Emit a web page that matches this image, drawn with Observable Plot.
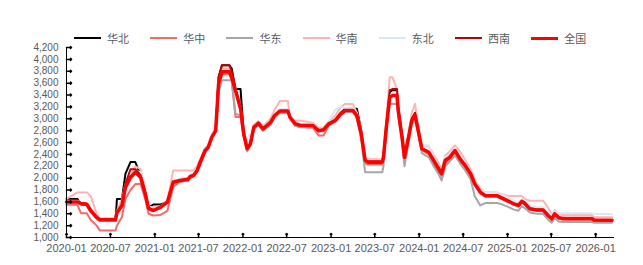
<!DOCTYPE html>
<html><head><meta charset="utf-8">
<script src="https://cdn.jsdelivr.net/npm/d3@7"></script>
<script src="https://cdn.jsdelivr.net/npm/@observablehq/plot@0.6"></script>
<style>
html,body{margin:0;padding:0;background:#fff;}
#wrap{position:relative;width:643px;height:265px;font-family:"Noto Sans CJK SC",sans-serif;}
#legend{position:absolute;top:31px;left:0;width:643px;height:14px;}
.item{position:absolute;top:0;display:flex;align-items:center;height:14px;font-size:11px;color:#595959;white-space:nowrap;}
.sw{width:27px;margin-right:6px;}
</style></head><body><div id="wrap"><div id="chart"></div><div id="legend"></div></div>
<script>
const dates = ["2020-01-01","2020-02-15","2020-03-01","2020-03-25","2020-04-10","2020-05-05","2020-05-18","2020-07-22","2020-07-28","2020-08-18",
"2020-09-01","2020-09-22","2020-10-12","2020-11-03","2020-11-22","2020-12-06","2020-12-25","2021-01-25","2021-02-22","2021-03-18",
"2021-04-15","2021-05-18","2021-05-28","2021-06-10","2021-06-25","2021-07-06","2021-07-28","2021-08-10","2021-08-25","2021-09-10",
"2021-09-22","2021-10-06","2021-11-06","2021-11-15","2021-12-01","2021-12-22","2022-01-04","2022-01-18","2022-02-01","2022-02-15",
"2022-03-06","2022-03-25","2022-04-25","2022-05-12","2022-06-03","2022-07-06","2022-07-15","2022-08-06","2022-08-25","2022-10-18",
"2022-11-10","2022-12-01","2022-12-22","2023-01-18","2023-02-10","2023-03-01","2023-04-01","2023-04-18","2023-05-06","2023-05-22",
"2023-06-03","2023-08-01","2023-08-06","2023-08-18","2023-09-01","2023-09-12","2023-10-01","2023-10-06","2023-10-22","2023-11-01",
"2023-11-18","2023-12-01","2023-12-15","2023-12-25","2024-01-12","2024-02-10","2024-03-01","2024-03-22","2024-04-03","2024-04-18",
"2024-05-06","2024-05-28","2024-06-18","2024-07-10","2024-08-01","2024-08-18","2024-09-10","2024-10-01","2024-11-18","2024-12-01",
"2025-01-01","2025-01-28","2025-02-15","2025-03-01","2025-03-12","2025-04-03","2025-05-01","2025-05-28","2025-06-18","2025-07-03",
"2025-07-15","2025-08-01","2025-08-18","2025-12-15","2025-12-25","2026-03-10"];

const huabei = [1650,1650,1560,1550,1450,1320,1280,1280,1650,1650,
2070,2270,2270,2050,1700,1500,1555,1555,1600,1950,
1970,1990,2040,2060,2140,2260,2470,2530,2700,2820,
3700,3900,3900,3850,3500,3500,2750,2500,2580,2860,
2930,2840,2940,3060,3140,3140,3030,2910,2880,2880,
2800,2810,2920,2980,3100,3170,3170,3170,2800,2280,
2250,2250,2350,2900,3450,3480,3480,3150,2700,2330,
2700,3000,3070,2870,2480,2420,2250,2100,2050,2280,
2350,2450,2330,2200,2060,1900,1760,1700,1700,1680,
1620,1560,1540,1600,1570,1480,1460,1460,1360,1300,
1390,1320,1310,1310,1280,1270];

const huazhong = [1550,1550,1410,1410,1300,1200,1120,1120,1200,1350,
1650,1800,1900,1900,1650,1400,1370,1380,1450,1850,
1940,1960,2000,2030,2100,2200,2430,2500,2670,2780,
3500,3750,3750,3650,3030,3030,2700,2480,2560,2840,
2900,2800,2900,3020,3100,3100,3000,2880,2860,2850,
2720,2720,2880,2950,3060,3120,3120,3030,2700,2250,
2230,2230,2300,2850,3400,3420,3420,3100,2650,2300,
2650,2950,3040,2840,2470,2400,2260,2120,2040,2250,
2320,2430,2300,2180,2040,1880,1740,1690,1690,1660,
1600,1550,1520,1590,1560,1470,1450,1450,1350,1300,
1380,1320,1300,1300,1280,1280];

const huadong = [1600,1600,1560,1550,1430,1320,1280,1280,1400,1520,
1800,1980,2080,2000,1720,1470,1440,1500,1580,1900,
1940,1960,2010,2030,2110,2230,2440,2500,2670,2780,
3450,3650,3650,3650,3090,3050,2700,2450,2550,2820,
2900,2800,2900,3020,3100,3100,3000,2880,2860,2860,
2780,2790,2890,2950,3060,3120,3120,3000,2650,2100,
2100,2100,2200,2800,3250,3250,3250,3050,2600,2200,
2600,2900,2980,2800,2420,2350,2200,2060,1960,2200,
2280,2380,2250,2130,1980,1700,1540,1580,1580,1570,
1520,1470,1450,1530,1500,1420,1400,1400,1300,1250,
1330,1270,1260,1260,1250,1250];

const huanan = [1650,1760,1760,1760,1700,1400,1330,1330,1450,1650,
1900,2050,2200,2150,1800,1520,1510,1510,1600,2130,
2130,2130,2130,2130,2200,2300,2500,2560,2720,2850,
3650,3850,3850,3750,3500,3200,2800,2550,2620,2900,
2960,2880,3000,3150,3300,3300,2970,2970,2970,2930,
2850,2850,2950,3050,3200,3250,3250,3100,2800,2350,
2320,2320,2450,3000,3700,3700,3500,3250,2750,2450,
2750,3100,3250,2950,2560,2530,2400,2250,2150,2380,
2450,2550,2450,2300,2150,1980,1820,1760,1760,1740,
1700,1700,1700,1700,1650,1620,1620,1620,1500,1380,
1460,1400,1380,1380,1340,1340];

const dongbei = [1620,1620,1590,1580,1470,1360,1320,1320,1440,1570,
1880,2050,2130,2100,1800,1520,1480,1530,1620,1950,
1990,2010,2060,2080,2170,2290,2510,2560,2730,2840,
3620,3820,3820,3730,3500,3200,2780,2520,2610,2890,
2950,2860,2970,3080,3160,3160,3050,2940,2920,2910,
2830,2840,2950,3150,3200,3180,3180,3090,2780,2330,
2300,2300,2380,2890,3400,3430,3430,3180,2730,2400,
2720,3000,3090,2900,2560,2550,2350,2200,2120,2350,
2400,2500,2380,2260,2110,1950,1800,1760,1760,1740,
1680,1620,1590,1650,1620,1530,1510,1510,1420,1370,
1440,1410,1410,1410,1400,1390];

const xinan = [1600,1600,1580,1570,1460,1340,1300,1300,1430,1560,
1900,2150,2150,2050,1760,1500,1460,1510,1600,1930,
1960,1980,2030,2050,2130,2250,2460,2520,2690,2800,
3700,3900,3900,3800,3500,3200,2760,2500,2580,2860,
2920,2830,2940,3050,3130,3130,3020,2910,2890,2880,
2800,2810,2910,2970,3080,3140,3140,3050,2750,2300,
2280,2280,2360,2900,3480,3500,3500,3200,2700,2350,
2700,3000,3100,2880,2500,2440,2300,2160,2080,2300,
2350,2470,2330,2210,2080,1910,1770,1710,1710,1690,
1620,1570,1540,1610,1580,1490,1470,1470,1370,1320,
1400,1340,1320,1320,1300,1290];

const national = [1600,1600,1570,1560,1455,1340,1300,1300,1420,1540,
1850,2015,2100,2015,1740,1490,1455,1510,1600,1930,
1960,1980,2030,2045,2130,2250,2465,2520,2690,2800,
3590,3790,3790,3700,3475,3170,2750,2495,2580,2860,
2925,2830,2940,3055,3130,3130,3025,2915,2890,2885,
2800,2815,2915,2970,3085,3140,3140,3055,2745,2300,
2270,2270,2350,2860,3360,3390,3390,3140,2690,2350,
2690,2970,3055,2860,2495,2435,2300,2160,2075,2300,
2350,2465,2325,2210,2075,1905,1765,1705,1705,1680,
1620,1565,1540,1610,1580,1485,1465,1465,1370,1315,
1400,1335,1320,1320,1295,1290];

const seriesNames = ["华北","华中","华东","华南","东北","西南","全国"];
const seriesValues = [huabei, huazhong, huadong, huanan, dongbei, xinan, national];
const seriesColors = ["#000000","#f36a6a","#a6a6a6","#ffb3b3","#d4ebf7","#c00000","#ff0000"];
const seriesWidths = [2,2,2,2,2,2,3.5];
const yTicks = [1000,1200,1400,1600,1800,2000,2200,2400,2600,2800,3000,3200,3400,3600,3800,4000,4200];
const xTickLabels = ["2020-01","2020-07","2021-01","2021-07","2022-01","2022-07","2023-01","2023-07","2024-01","2024-07","2025-01","2025-07","2026-01"];

const parse = d3.utcParse("%Y-%m-%d");
const parseM = d3.utcParse("%Y-%m");
const xTickDates = xTickLabels.map(parseM);
const xStart = parse("2020-01-01"), xEnd = parse("2026-03-20");

const rows = seriesNames.map((n, i) => dates.map((d, j) => ({date: parse(d), value: seriesValues[i][j], name: n})));

const chart = Plot.plot({
  width: 643, height: 265,
  marginLeft: 66, marginRight: 29, marginTop: 47, marginBottom: 28,
  style: {fontFamily: '"Liberation Sans", sans-serif', fontSize: "10px", color: "#595959", background: "#fff"},
  x: {type: "utc", domain: [xStart, xEnd], label: null},
  y: {domain: [1000, 4200], label: null},
  marks: [
    Plot.axisY(yTicks, {tickSize: 0, tickPadding: 8, tickFormat: d3.format(","), fill: "#595959", label: null, fontSize: 10}),
    Plot.axisX(xTickDates, {tickSize: 0, tickPadding: 7, tickFormat: d3.utcFormat("%Y-%m"), fill: "#595959", label: null, fontSize: 11}),
    ...seriesNames.map((n, i) => Plot.line(rows[i], {x: "date", y: "value", stroke: seriesColors[i], strokeWidth: seriesWidths[i], strokeLinejoin: "round"})),
    Plot.ruleX([xStart], {stroke: "#000"}),
    Plot.ruleY([1000], {stroke: "#000"}),
    Plot.vector(yTicks, {x: () => xStart, y: d => d, rotate: 90, length: 5, anchor: "start", stroke: "#000"}),
    Plot.vector(xTickDates, {x: d => d, y: () => 1000, length: 4, anchor: "start", stroke: "#000"})
  ]
});
document.getElementById("chart").appendChild(chart);

const legend = document.getElementById("legend");
seriesNames.forEach((n, i) => {
  const it = document.createElement("div");
  it.className = "item";
  it.style.left = (74 + i * 76.2) + "px";
  const sw = document.createElement("div");
  sw.className = "sw";
  sw.style.height = (i === 6 ? 3 : 2) + "px";
  sw.style.background = seriesColors[i];
  const tx = document.createElement("span");
  tx.textContent = n;
  it.appendChild(sw); it.appendChild(tx);
  legend.appendChild(it);
});
</script></body></html>
